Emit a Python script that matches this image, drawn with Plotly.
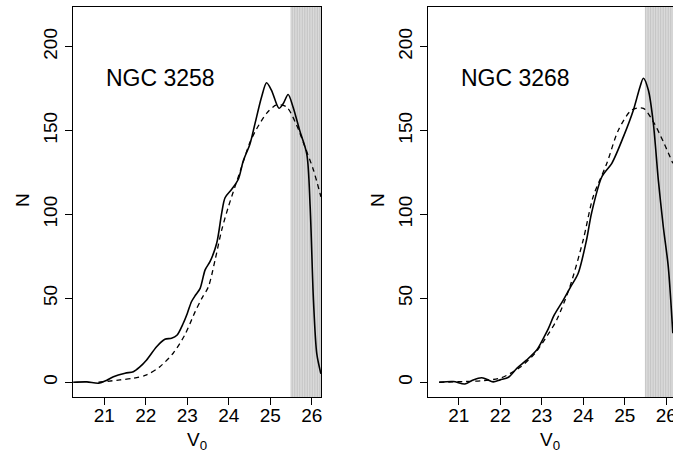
import numpy as np
import plotly.graph_objects as go

# ---------------- data ----------------
# NGC 3258 (left panel)
v_3258_solid = [20.25, 20.58, 20.86, 21.05, 21.22, 21.5, 21.7, 21.85, 22.02, 22.26, 22.46, 22.62,
                22.75, 22.9, 23.0, 23.1, 23.2, 23.31, 23.43, 23.55, 23.71, 23.83, 23.91, 24.07,
                24.23, 24.35, 24.51, 24.63, 24.79, 24.91, 25.03, 25.21, 25.31, 25.43, 25.55,
                25.71, 25.88, 25.96, 26.04, 26.12, 26.22]
n_3258_solid = [0, 0.2, -0.6, 1.0, 3.3, 5.4, 6.3, 9, 13.3, 21.2, 25.6, 26.2,
                28, 35, 41, 48, 52, 56, 67, 72, 83, 101, 110, 115,
                121, 132, 142, 154, 170, 178.5, 174, 163.3, 166, 171.5, 164,
                150, 136, 105, 49, 17, 5]
v_3258_dash = [20.86, 21.38, 21.7, 22.02, 22.34, 22.66, 22.94, 23.19, 23.35, 23.51, 23.67, 23.83,
               23.99, 24.15, 24.31, 24.51, 24.67, 24.91, 25.15, 25.39, 25.63, 25.84, 26.04, 26.22]
n_3258_dash = [0, 1.4, 2.4, 4.4, 9.3, 17.3, 28.2, 42.1, 50, 57, 72.9, 90.8,
               104.6, 116.6, 128.5, 143, 151, 160.3, 165.3, 164.2, 153.5, 140, 126.5, 110.6]

# NGC 3268 (right panel)
v_3268_solid = [20.53, 20.87, 21.15, 21.35, 21.55, 21.67, 21.83, 22.0, 22.2, 22.4, 22.64, 22.88,
                23.04, 23.16, 23.3, 23.52, 23.7, 23.88, 24.08, 24.2, 24.45, 24.69, 24.97, 25.21,
                25.37, 25.45, 25.57, 25.69, 25.81, 25.93, 26.05, 26.16]
n_3268_solid = [0, 0.4, -1, 1.4, 2.7, 1.8, 0.2, 1.4, 3, 8.3, 13.3, 19.2,
                26.2, 32, 40, 49, 57, 65, 84.8, 100.7, 122.5, 130.5, 146.4, 162.3,
                176.2, 181.2, 174.2, 154.4, 120.6, 92.7, 68.9, 29.2]
v_3268_dash = [20.53, 21.1, 21.6, 22.03, 22.48, 22.84, 23.14, 23.36, 23.68, 24.0, 24.24, 24.57,
               24.85, 25.17, 25.45, 25.69, 25.93, 26.16]
n_3268_dash = [0, 0.4, 1, 2.7, 8.9, 17.3, 28, 37.1, 57, 84.8, 110.6, 130.5,
               150.4, 162.3, 163.3, 155.3, 143.4, 130.5]

labels = ["NGC 3258", "NGC 3268"]
x_ticks = [21, 22, 23, 24, 25, 26]
y_ticks = [0, 50, 100, 150, 200]
limit_start = 25.5      # start of the shaded (incomplete) magnitude zone
limit_end = 26.4
shade_lines = list(np.arange(limit_start, limit_end, 0.04))

# ---------------- figure ----------------
W, H = 673, 452
FONT = "Liberation Sans, Arial, Helvetica, sans-serif"

fig = go.Figure()

panels = [
    ("x", "y", v_3258_solid, n_3258_solid, v_3258_dash, n_3258_dash),
    ("x2", "y2", v_3268_solid, n_3268_solid, v_3268_dash, n_3268_dash),
]
for xa, ya, vs, ns, vd, nd in panels:
    fig.add_trace(go.Scatter(x=vd, y=nd, xaxis=xa, yaxis=ya, mode="lines",
                             line=dict(color="black", width=1.3, dash="5px,4px",
                                       shape="spline", smoothing=0.8),
                             showlegend=False, hoverinfo="skip"))
    fig.add_trace(go.Scatter(x=vs, y=ns, xaxis=xa, yaxis=ya, mode="lines",
                             line=dict(color="black", width=1.6,
                                       shape="spline", smoothing=0.8),
                             showlegend=False, hoverinfo="skip"))
    # shaded zone
    fig.add_shape(type="rect", xref=xa, yref=ya + " domain", x0=limit_start, x1=limit_end,
                  y0=0, y1=1, fillcolor="#e6e6e6", line=dict(width=0), layer="below")
    for sx in shade_lines:
        fig.add_shape(type="line", xref=xa, yref=ya + " domain", x0=sx, x1=sx, y0=0, y1=1,
                      line=dict(color="#b4b4b4", width=0.7), layer="below")

x_dom1 = [73 / W, 321 / W]
x_dom2 = [428 / W, 1.0]
y_dom = [1 - 397 / H, 1 - 7 / H]

axis_common = dict(showgrid=False, zeroline=False, showline=True, linecolor="black",
                   linewidth=1, ticks="outside", ticklen=7, tickwidth=1, tickcolor="black",
                   ticklabeloverflow="allow", automargin=False,
                   tickfont=dict(family=FONT, size=19, color="black"))

fig.update_layout(
    width=W, height=H,
    margin=dict(l=0, r=0, t=0, b=0),
    paper_bgcolor="white", plot_bgcolor="white",
    font=dict(family=FONT, color="black"),
    xaxis=dict(domain=x_dom1, range=[20.246, 26.222], tickvals=x_ticks, mirror=True,
               anchor="y", ticklabelstandoff=-6, **axis_common),
    yaxis=dict(domain=y_dom, range=[-8.8, 223.7], tickvals=y_ticks, tickangle=-90,
               mirror=True, anchor="x", **axis_common),
    xaxis2=dict(domain=x_dom2, range=[20.26, 26.164], tickvals=x_ticks, mirror=True,
                anchor="y2", ticklabelstandoff=-6, **axis_common),
    yaxis2=dict(domain=y_dom, range=[-8.8, 223.7], tickvals=y_ticks, tickangle=-90,
                mirror=False, anchor="x2", **axis_common),
)

# panel labels
for xa, ya, lab in [("x", "y", labels[0]), ("x2", "y2", labels[1])]:
    fig.add_annotation(x=21.0, y=181.4, xref=xa, yref=ya, text=lab, showarrow=False,
                       xanchor="left", yanchor="middle",
                       font=dict(family=FONT, size=23, color="black"))

# axis titles
for cx in [197 / W, 549.5 / W]:
    fig.add_annotation(x=cx, y=1 - 441 / H, xref="paper", yref="paper", text="V<sub>0</sub>",
                       showarrow=False, xanchor="center", yanchor="middle",
                       font=dict(family=FONT, size=19, color="black"))
for cx in [22 / W, 377 / W]:
    fig.add_annotation(x=cx, y=1 - 200 / H, xref="paper", yref="paper", text="N",
                       showarrow=False, xanchor="center", yanchor="middle", textangle=-90,
                       font=dict(family=FONT, size=19, color="black"))

post = (
    "document.documentElement.style.overflow='hidden';"
    "document.body.style.margin='0';document.body.style.overflow='hidden';"
    "var gd=document.getElementById('{plot_id}');"
    "gd.style.overflow='hidden';gd.style.width='673px';gd.style.height='452px';"
    "if(gd.parentNode){gd.parentNode.style.overflow='hidden';}"
    "gd.querySelectorAll('svg').forEach(function(s){s.style.overflow='hidden';});"
)
fig.write_html("out.html", config={"displayModeBar": False}, post_script=post)
